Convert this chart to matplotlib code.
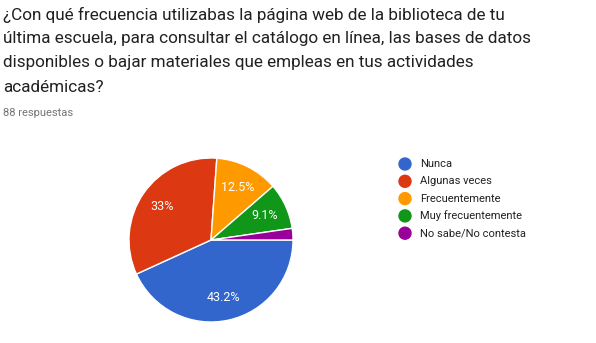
import matplotlib
matplotlib.use('Agg')
import matplotlib.pyplot as plt
from matplotlib.patches import Ellipse

W, H = 596, 343

title_lines = [
    '¿Con qué frecuencia utilizabas la página web de la biblioteca de tu',
    'última escuela, para consultar el catálogo en línea, las bases de datos',
    'disponibles o bajar materiales que empleas en tus actividades',
    'académicas?',
]
subtitle = '88 respuestas'

labels = ['Nunca', 'Algunas veces', 'Frecuentemente', 'Muy frecuentemente',
          'No sabe/No contesta']
counts = [38, 29, 11, 8, 2]
colors = ['#3366cc', '#dc3912', '#ff9900', '#109618', '#990099']

plt.rcParams['font.family'] = ['Roboto', 'DejaVu Sans']

fig = plt.figure(figsize=(W / 100, H / 100), dpi=100)

# title, one line at a time so the spacing matches
for i, line in enumerate(title_lines):
    fig.text(3 / W, 1 - (15 + 24 * i) / H, line, fontsize=12.3, color='#212121',
             va='center', ha='left')
fig.text(3 / W, 1 - 113 / H, subtitle, fontsize=8, color='#757575',
         va='center', ha='left')


def pct_label(p):
    if p < 5:
        return ''
    s = f'{p:.1f}'
    if s.endswith('.0'):
        s = s[:-2]
    return s + '%'


# pie, centre (211, 240), radius 82 px
cx, cy, r = 211, 240, 82
ax = fig.add_axes([(cx - r) / W, 1 - (cy + r) / H, 2 * r / W, 2 * r / H])
wedges, texts, autotexts = ax.pie(
    counts, colors=colors, startangle=0, counterclock=False,
    autopct=pct_label, pctdistance=0.72,
    wedgeprops={'edgecolor': 'white', 'linewidth': 1},
    textprops={'color': 'white', 'fontsize': 9})
ax.set_xlim(-1, 1)
ax.set_ylim(-1, 1)
ax.set_aspect('equal')
ax.axis('off')

# legend
for i, (lab, col) in enumerate(zip(labels, colors)):
    y = 1 - (164 + 17.3 * i) / H
    fig.patches.append(Ellipse((405 / W, y), 12 / W, 12 / H, transform=fig.transFigure,
                               color=col, figure=fig))
    fig.text(420 / W, y, lab, fontsize=8, color='#222222', va='center', ha='left')

fig.savefig('out.png', dpi=100)
